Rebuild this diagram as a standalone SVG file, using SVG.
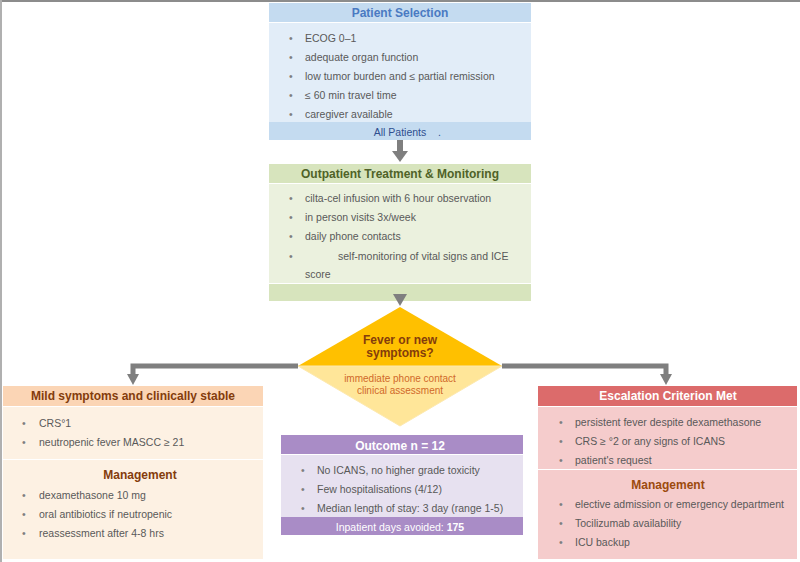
<svg xmlns="http://www.w3.org/2000/svg" width="800" height="562" viewBox="0 0 800 562">
<style>
text{font-family:"Liberation Sans",Arial,sans-serif}
.t{font-size:10.5px;fill:#595959}
.b{font-size:10.5px;fill:#7f7f7f}
.h{font-size:12px;font-weight:bold;text-anchor:middle}
.c{fill:none;stroke:#7f7f7f;stroke-width:5}
.ah{fill:#7f7f7f}
</style>
<rect x="0" y="0" width="800" height="562" fill="#ffffff"/>
<line x1="0" y1="1" x2="800" y2="1" stroke="#8c8c8c" stroke-width="2"/>
<line x1="1" y1="0" x2="1" y2="562" stroke="#b0b0b0" stroke-width="2"/>

<g id="patient-selection">
  <rect x="269" y="3" width="262" height="19" fill="#c4dbf0"/>
  <rect x="269" y="23" width="262" height="99" fill="#e2edf8"/>
  <rect x="269" y="122" width="262" height="18" fill="#c4dbf0"/>
  <text x="400" y="17" class="h" fill="#4a7ac2">Patient Selection</text>
  <text x="289" y="42" class="b">•</text><text x="305" y="42" class="t">ECOG 0–1</text>
  <text x="289" y="61" class="b">•</text><text x="305" y="61" class="t">adequate organ function</text>
  <text x="289" y="80" class="b">•</text><text x="305" y="80" class="t">low tumor burden and ≤ partial remission</text>
  <text x="289" y="99" class="b">•</text><text x="305" y="99" class="t">≤ 60 min travel time</text>
  <text x="289" y="118" class="b">•</text><text x="305" y="118" class="t">caregiver available</text>
  <text x="400" y="136" font-size="10.5" fill="#2f4f8f" text-anchor="middle">All Patients</text>
  <text x="438" y="136" font-size="10.5" fill="#2f4f8f">.</text>
</g>

<g id="outpatient">
  <rect x="269" y="164" width="262" height="19" fill="#d7e4bd"/>
  <rect x="269" y="184" width="262" height="99" fill="#ebf1de"/>
  <rect x="269" y="284" width="262" height="17" fill="#d7e4bd"/>
  <text x="400" y="178" class="h" fill="#4f6228">Outpatient Treatment &amp; Monitoring</text>
  <text x="289" y="202" class="b">•</text><text x="305" y="202" class="t">cilta-cel infusion with 6 hour observation</text>
  <text x="289" y="221" class="b">•</text><text x="305" y="221" class="t">in person visits 3x/week</text>
  <text x="289" y="240" class="b">•</text><text x="305" y="240" class="t">daily phone contacts</text>
  <text x="289" y="260" class="b">•</text><text x="338" y="260" class="t">self-monitoring of vital signs and ICE</text>
  <text x="305" y="278" class="t">score</text>
</g>

<g id="decision">
  <polygon points="400,307 502,366 298,366" fill="#ffc000"/>
  <polygon points="298,366 502,366 400,426" fill="#ffe699" stroke="#fde9b0" stroke-width="1"/>
  <text x="400" y="344" class="h" fill="#843c0c">Fever or new</text>
  <text x="400" y="357" class="h" fill="#843c0c">symptoms?</text>
  <text x="400" y="382" font-size="10" fill="#d0692a" text-anchor="middle">immediate phone contact</text>
  <text x="400" y="394" font-size="10" fill="#d0692a" text-anchor="middle">clinical assessment</text>
</g>

<g id="mild">
  <rect x="3" y="386" width="260" height="20" fill="#fbd5b5"/>
  <rect x="3" y="407" width="260" height="52" fill="#fdf1e3"/>
  <rect x="3" y="460" width="260" height="99" fill="#fdf1e3"/>
  <text x="133" y="400" class="h" fill="#843c0c">Mild symptoms and clinically stable</text>
  <text x="22" y="427" class="b">•</text><text x="39" y="427" class="t">CRS°1</text>
  <text x="22" y="446" class="b">•</text><text x="39" y="446" class="t">neutropenic fever MASCC ≥ 21</text>
  <text x="140" y="479" class="h" fill="#843c0c">Management</text>
  <text x="22" y="499" class="b">•</text><text x="39" y="499" class="t">dexamethasone 10 mg</text>
  <text x="22" y="518" class="b">•</text><text x="39" y="518" class="t">oral antibiotics if neutropenic</text>
  <text x="22" y="537" class="b">•</text><text x="39" y="537" class="t">reassessment after 4-8 hrs</text>
</g>

<g id="outcome">
  <rect x="281" y="435" width="242" height="19" fill="#a98cc6"/>
  <rect x="281" y="455" width="242" height="62" fill="#e7e1f0"/>
  <rect x="281" y="517" width="242" height="18" fill="#a98cc6"/>
  <text x="400" y="450" class="h" fill="#ffffff">Outcome n = 12</text>
  <text x="301" y="474" class="b">•</text><text x="317" y="474" class="t">No ICANS, no higher grade toxicity</text>
  <text x="301" y="493" class="b">•</text><text x="317" y="493" class="t">Few hospitalisations (4/12)</text>
  <text x="301" y="512" class="b">•</text><text x="317" y="512" class="t">Median length of stay: 3 day (range 1-5)</text>
  <text x="400" y="531" font-size="10.5" fill="#ffffff" text-anchor="middle">Inpatient days avoided: <tspan font-weight="bold">175</tspan></text>
</g>

<g id="escalation">
  <rect x="538" y="386" width="259" height="20" fill="#dc6b6b"/>
  <rect x="538" y="407" width="259" height="62" fill="#f5cccc"/>
  <rect x="538" y="470" width="259" height="89" fill="#f5cccc"/>
  <text x="668" y="400" class="h" fill="#ffffff">Escalation Criterion Met</text>
  <text x="559" y="426" class="b">•</text><text x="575" y="426" class="t">persistent fever despite dexamethasone</text>
  <text x="559" y="445" class="b">•</text><text x="575" y="445" class="t">CRS ≥ °2 or any signs of ICANS</text>
  <text x="559" y="464" class="b">•</text><text x="575" y="464" class="t">patient's request</text>
  <text x="668" y="489" class="h" fill="#9c4a0e">Management</text>
  <text x="559" y="508" class="b">•</text><text x="575" y="508" class="t">elective admission or emergency department</text>
  <text x="559" y="527" class="b">•</text><text x="575" y="527" class="t">Tocilizumab availability</text>
  <text x="559" y="546" class="b">•</text><text x="575" y="546" class="t">ICU backup</text>
</g>

<g id="connectors">
  <rect x="397" y="140" width="6" height="12" class="ah"/>
  <polygon points="392,151 408,151 400,162" class="ah"/>
  <polygon points="393,294 407,294 400,306" class="ah"/>
  <polyline points="298,366 133,366 133,376" class="c"/>
  <polygon points="127,374 139,374 133,385" class="ah"/>
  <polyline points="502,366 666,366 666,376" class="c"/>
  <polygon points="660,374 672,374 666,385" class="ah"/>
</g>
</svg>
